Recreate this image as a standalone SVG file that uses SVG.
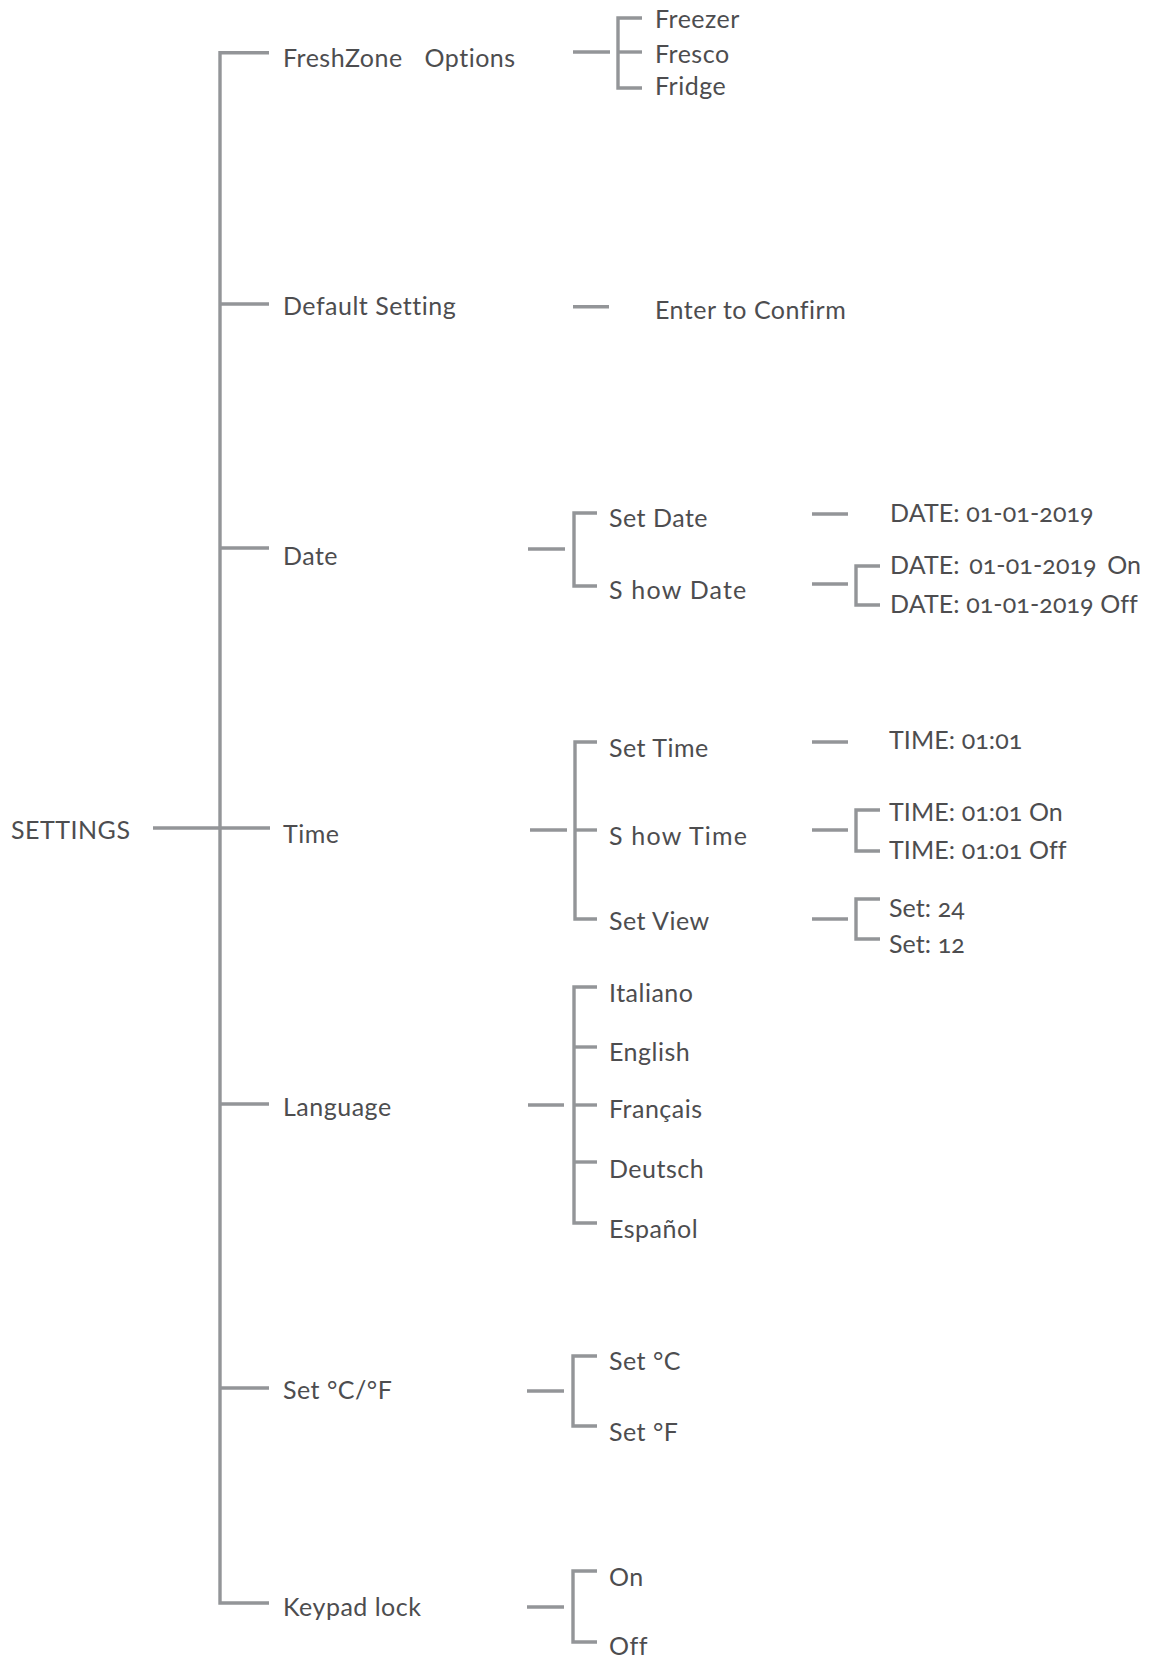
<svg xmlns="http://www.w3.org/2000/svg" width="1150" height="1662" viewBox="0 0 1150 1662">
<style>
text{font-family:Lato,"Liberation Sans",sans-serif;font-size:25px;fill:#4d4d4f;font-variant-numeric:oldstyle-nums;letter-spacing:0.5px;}
.ls{letter-spacing:1.2px;}
.v{letter-spacing:0.1px;}
#connectors path{fill:none;stroke:#939598;stroke-width:3.4;stroke-linecap:butt;stroke-linejoin:miter;}
</style>
<rect width="1150" height="1662" fill="#ffffff"/>
<g id="connectors">
<path d="M153 828 H270"/>
<path d="M269 52.7 H220 V1603 H269"/>
<path d="M220 304 H269"/>
<path d="M220 548 H269"/>
<path d="M220 1104 H269"/>
<path d="M220 1388 H269"/>
<path d="M573 52 H610"/>
<path d="M642 18 H618 V88 H642"/>
<path d="M618 52 H642"/>
<path d="M573 306.7 H609"/>
<path d="M528 549 H565"/>
<path d="M597 513 H574 V586 H597"/>
<path d="M812 514 H848"/>
<path d="M812 584 H848"/>
<path d="M880 566 H856 V605 H880"/>
<path d="M530 830 H567"/>
<path d="M597 742 H575 V919 H597"/>
<path d="M575 830 H597"/>
<path d="M812 742 H848"/>
<path d="M812 830 H848"/>
<path d="M880 810 H856 V851 H880"/>
<path d="M812 919 H848"/>
<path d="M880 899 H856 V939 H880"/>
<path d="M528 1105 H564"/>
<path d="M597 987 H574 V1223 H597"/>
<path d="M574 1047 H597"/>
<path d="M574 1105 H597"/>
<path d="M574 1162 H597"/>
<path d="M527 1391 H564"/>
<path d="M597 1356 H573 V1426 H597"/>
<path d="M527 1607 H564"/>
<path d="M597 1571 H573 V1642 H597"/>
</g>
<g id="settings"><text x="11" y="839">SETTINGS</text></g>
<g id="freshzone"><text x="283" y="67">FreshZone <tspan dx="15">Options</tspan></text></g>
<g id="freezer"><text x="655" y="28">Freezer</text></g>
<g id="fresco"><text x="655" y="63">Fresco</text></g>
<g id="fridge"><text x="655" y="95">Fridge</text></g>
<g id="default"><text x="283" y="315">Default Setting</text></g>
<g id="confirm"><text x="655" y="319">Enter to Confirm</text></g>
<g id="date"><text x="283" y="565">Date</text></g>
<g id="setdate"><text x="609" y="527">Set Date</text></g>
<g id="datevalue"><text class="v" x="890" y="522">DATE: 01-01-2019</text></g>
<g id="showdate"><text class="ls" x="609" y="599">S how Date</text></g>
<g id="dateon"><text class="v" x="890" y="574">DATE: <tspan dx="3">01-01-2019</tspan> <tspan dx="4">On</tspan></text></g>
<g id="dateoff"><text class="v" x="890" y="613">DATE: 01-01-2019 Off</text></g>
<g id="time"><text x="283" y="843">Time</text></g>
<g id="settime"><text x="609" y="757">Set Time</text></g>
<g id="timevalue"><text class="v" x="889" y="749">TIME: 01:01</text></g>
<g id="showtime"><text class="ls" x="609" y="845">S how Time</text></g>
<g id="timeon"><text class="v" x="889" y="821">TIME: 01:01 On</text></g>
<g id="timeoff"><text class="v" x="889" y="859">TIME: 01:01 Off</text></g>
<g id="setview"><text x="609" y="930">Set View</text></g>
<g id="set24"><text class="v" x="889" y="917">Set: 24</text></g>
<g id="set12"><text class="v" x="889" y="953">Set: 12</text></g>
<g id="language"><text x="283" y="1116">Language</text></g>
<g id="italiano"><text x="609" y="1002">Italiano</text></g>
<g id="english"><text x="609" y="1061">English</text></g>
<g id="francais"><text x="609" y="1118">Français</text></g>
<g id="deutsch"><text x="609" y="1178">Deutsch</text></g>
<g id="espanol"><text x="609" y="1238">Español</text></g>
<g id="unit"><text x="283" y="1399">Set °C/°F</text></g>
<g id="setc"><text x="609" y="1370">Set °C</text></g>
<g id="setf"><text x="609" y="1441">Set °F</text></g>
<g id="keypad"><text x="283" y="1616">Keypad lock</text></g>
<g id="on"><text x="609" y="1586">On</text></g>
<g id="off"><text x="609" y="1655">Off</text></g>
</svg>
